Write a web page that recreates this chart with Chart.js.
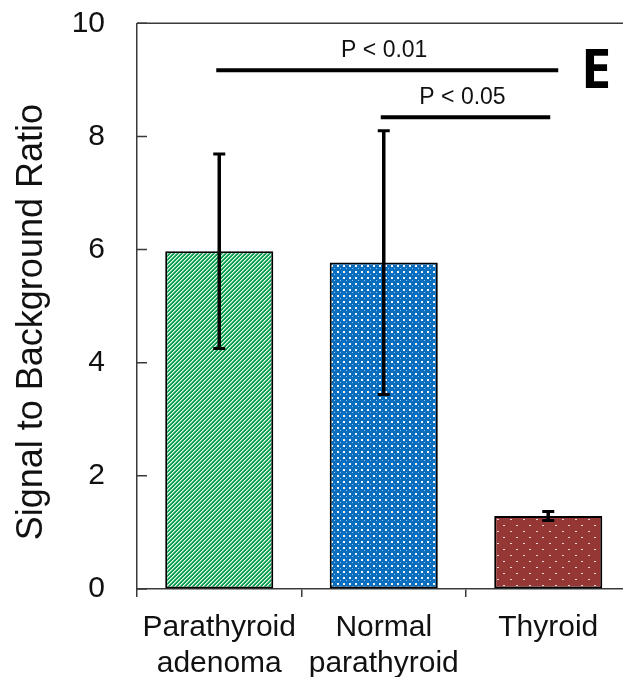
<!DOCTYPE html>
<html>
<head>
<meta charset="utf-8">
<script src="https://cdn.jsdelivr.net/npm/chart.js@4.4.1/dist/chart.umd.min.js"></script>
<style>
  html, body { margin: 0; padding: 0; background: #fff; overflow: hidden; width: 623px; height: 677px; }
  #wrap { position: relative; width: 623px; height: 677px; overflow: hidden; }
  canvas { display: block; }
</style>
</head>
<body>
<div id="wrap"><canvas id="chart" width="640" height="677"></canvas></div>
<script>
// Signal-to-background ratio by tissue type (mean ± SD)
const categories = [['Parathyroid', 'adenoma'], ['Normal', 'parathyroid'], 'Thyroid'];
const means = [5.97, 5.77, 1.29];
const errors = [1.72, 2.33, 0.08];
const yTicks = [0, 2, 4, 6, 8, 10];
const yTitle = 'Signal to Background Ratio';
// Pairwise comparisons: category indices, bracket height (ratio units), label
const comparePairs = [[0, 2], [1, 2]];
const compareHeights = [9.17, 8.34];
const compareLabels = ['P < 0.01', 'P < 0.05'];
const panelLetter = 'E';

const FONT = '"Liberation Sans", Arial, sans-serif';
const INK = '#111';
const AXIS = '#3a3a3a';

function makePattern(w, h, bg, paint) {
  const c = document.createElement('canvas');
  c.width = w; c.height = h;
  const g = c.getContext('2d');
  g.fillStyle = bg;
  g.fillRect(0, 0, w, h);
  paint(g, w, h);
  return g.createPattern(c, 'repeat');
}

// green with pale upward diagonals
const greenFill = makePattern(4, 4, '#0b9f50', (g, w, h) => {
  for (let px = 0; px < w; px++) {
    for (let py = 0; py < h; py++) {
      const k = (px + py) % 4;
      if (k === 0) { g.fillStyle = '#eaf8ef'; g.fillRect(px, py, 1, 1); }
      if (k === 1) { g.fillStyle = '#7fd3a3'; g.fillRect(px, py, 1, 1); }
    }
  }
});
// blue with a fine grid of white dots
const blueFill = makePattern(6, 6, '#0a6ebf', (g) => {
  g.fillStyle = '#f4f9ff';
  g.fillRect(1, 1, 2, 2);
  g.fillStyle = '#9cc6ec';
  g.fillRect(4, 4, 1, 1);
});
// dark red with sparse white dots
const redFill = makePattern(13, 12, '#953735', (g) => {
  g.fillStyle = '#ecd6d6';
  g.fillRect(3, 3, 2, 1);
  g.fillRect(9, 9, 2, 1);
});

const framePlugin = {
  id: 'frame',
  afterDraw(chart) {
    const { ctx, chartArea: a, scales: { y } } = chart;
    ctx.save();
    ctx.strokeStyle = AXIS;
    ctx.lineWidth = 1.5;
    // top and right edges of the plot frame
    ctx.beginPath();
    ctx.moveTo(a.left, a.top);
    ctx.lineTo(a.right, a.top);
    ctx.lineTo(a.right, a.bottom);
    ctx.stroke();
    // inward tick marks on the value axis
    ctx.beginPath();
    yTicks.forEach(v => {
      const py = y.getPixelForValue(v);
      ctx.moveTo(a.left, py);
      ctx.lineTo(a.left + 10, py);
    });
    ctx.stroke();
    // value-axis title
    ctx.translate(32, (y.top + y.bottom) / 2 + 16);
    ctx.rotate(-Math.PI / 2);
    ctx.fillStyle = INK;
    ctx.font = '36px ' + FONT;
    ctx.textAlign = 'center';
    ctx.textBaseline = 'middle';
    ctx.fillText(yTitle, 0, 0);
    ctx.restore();
  }
};

const errorBarPlugin = {
  id: 'errorBars',
  afterDatasetsDraw(chart) {
    const { ctx, scales: { y } } = chart;
    const bars = chart.getDatasetMeta(0).data;
    ctx.save();
    ctx.strokeStyle = '#000';
    bars.forEach((bar, i) => {
      const hi = y.getPixelForValue(means[i] + errors[i]);
      const lo = y.getPixelForValue(means[i] - errors[i]);
      ctx.lineWidth = 3.5;
      ctx.beginPath();
      ctx.moveTo(bar.x, hi);
      ctx.lineTo(bar.x, lo);
      ctx.stroke();
      ctx.lineWidth = 3;
      ctx.beginPath();
      ctx.moveTo(bar.x - 6, hi); ctx.lineTo(bar.x + 6, hi);
      ctx.moveTo(bar.x - 6, lo); ctx.lineTo(bar.x + 6, lo);
      ctx.stroke();
    });

    // significance lines with their labels
    ctx.lineWidth = 4;
    ctx.fillStyle = INK;
    ctx.font = '23px ' + FONT;
    ctx.textAlign = 'center';
    ctx.textBaseline = 'middle';
    comparePairs.forEach(([a, b], k) => {
      const x0 = bars[a].x - 3;
      const x1 = bars[b].x + (k === 0 ? 10 : 2);
      const py = y.getPixelForValue(compareHeights[k]);
      ctx.beginPath();
      ctx.moveTo(x0, py);
      ctx.lineTo(x1, py);
      ctx.stroke();
      ctx.fillText(compareLabels[k], (x0 + x1) / 2 - 3, py - 20);
    });

    // panel letter
    ctx.font = 'bold 54px "Open Sans", "Liberation Sans", sans-serif';
    ctx.textAlign = 'left';
    ctx.textBaseline = 'alphabetic';
    ctx.fillStyle = '#000';
    ctx.fillText(panelLetter, 581, 88);
    ctx.restore();
  }
};

new Chart(document.getElementById('chart').getContext('2d'), {
  type: 'bar',
  data: {
    labels: categories,
    datasets: [{
      data: means,
      backgroundColor: [greenFill, blueFill, redFill],
      borderColor: '#000',
      borderWidth: 2,
      borderSkipped: false,
      barPercentage: 0.657,
      categoryPercentage: 1
    }]
  },
  options: {
    responsive: false,
    animation: false,
    devicePixelRatio: 1,
    layout: { padding: { top: 23.3, right: 9.5, left: 0, bottom: 0 } },
    plugins: { legend: { display: false }, tooltip: { enabled: false } },
    scales: {
      x: {
        offset: true,
        grid: { offset: true, drawOnChartArea: false, tickLength: 8, color: AXIS, lineWidth: 1.5 },
        border: { display: true, color: AXIS, width: 1.5 },
        ticks: { color: INK, font: { family: FONT, size: 30 }, padding: 13, maxRotation: 0, autoSkip: false },
        afterFit: s => { s.height = 88; }
      },
      y: {
        min: 0,
        max: 10,
        grid: { display: true, drawOnChartArea: false, drawTicks: true, tickLength: 32, color: 'rgba(0,0,0,0)' },
        border: { display: true, color: AXIS, width: 1.5 },
        ticks: { stepSize: 2, color: INK, font: { family: FONT, size: 30 }, padding: 0 },
        afterFit: s => { s.width = 137; }
      }
    }
  },
  plugins: [framePlugin, errorBarPlugin]
});
</script>
</body>
</html>
